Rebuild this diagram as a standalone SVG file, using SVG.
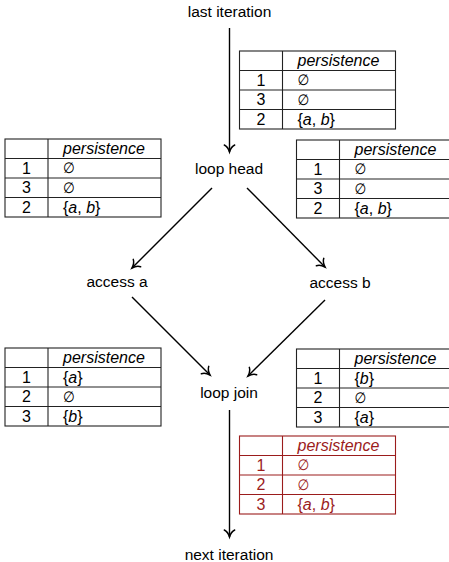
<svg xmlns="http://www.w3.org/2000/svg" width="449" height="562" viewBox="0 0 449 562">
<style>
text{font-family:"Liberation Sans","DejaVu Sans",Arial,sans-serif;font-size:15.5px;fill:#000}
.t text{font-size:16px}
.lbl{text-anchor:middle}
.red text{fill:#9b1c1c}
.num{text-anchor:middle}
.it{font-style:italic}
.t .es{font-family:"DejaVu Sans Condensed","DejaVu Sans",sans-serif;font-style:italic;font-size:15px}
.edge{stroke:#000;stroke-width:1.4;fill:none;marker-end:url(#arr)}
</style>
<defs>
<marker id="arr" markerUnits="userSpaceOnUse" markerWidth="14" markerHeight="14" viewBox="-9 -7 11 14" refX="0" refY="0" orient="auto">
<path d="M-7,-5.2 C-5.5,-2.2 -2,-0.6 0,0 C-2,0.6 -5.5,2.2 -7,5.2" fill="none" stroke="#000" stroke-width="1.5" stroke-linecap="round"/>
</marker>
<g id="grid" fill="none" stroke-width="1.1">
<rect x="0" y="0" width="156" height="78"/>
<line x1="43" y1="0" x2="43" y2="78"/>
<line x1="0" y1="19.5" x2="156" y2="19.5"/>
<line x1="0" y1="39" x2="156" y2="39"/>
<line x1="0" y1="58.5" x2="156" y2="58.5"/>
</g>
</defs>

<g id="connectors">
<line class="edge" x1="229.5" y1="28" x2="229.5" y2="152"/>
<line class="edge" x1="212" y1="188" x2="132" y2="268"/>
<line class="edge" x1="247" y1="188" x2="325" y2="267"/>
<line class="edge" x1="132" y1="297" x2="210" y2="375"/>
<line class="edge" x1="325" y1="300" x2="248" y2="376"/>
<line class="edge" x1="229.5" y1="410" x2="229.5" y2="537"/>
</g>

<g id="last-iteration"><text class="lbl" x="229.5" y="17">last iteration</text></g>
<g id="loop-head"><text class="lbl" x="229" y="174">loop head</text></g>
<g id="access-a"><text class="lbl" x="117" y="287">access a</text></g>
<g id="access-b"><text class="lbl" x="340" y="288">access b</text></g>
<g id="loop-join"><text class="lbl" x="229" y="398">loop join</text></g>
<g id="next-iteration"><text class="lbl" x="229" y="560">next iteration</text></g>

<g id="table-top" class="t" transform="translate(239.5,51)">
<use href="#grid" stroke="#222"/>
<text class="it" x="58" y="14.5">persistence</text>
<text class="num" x="21.5" y="34.5">1</text><text class="es" x="58" y="34">∅</text>
<text class="num" x="21.5" y="54">3</text><text class="es" x="58" y="53.5">∅</text>
<text class="num" x="21.5" y="73.5">2</text><text x="58" y="73.5">{<tspan class="it">a</tspan>, <tspan class="it">b</tspan>}</text>
</g>

<g id="table-head-left" class="t" transform="translate(5,139)">
<use href="#grid" stroke="#222"/>
<text class="it" x="58" y="14.5">persistence</text>
<text class="num" x="21.5" y="34.5">1</text><text class="es" x="58" y="34">∅</text>
<text class="num" x="21.5" y="54">3</text><text class="es" x="58" y="53.5">∅</text>
<text class="num" x="21.5" y="73.5">2</text><text x="58" y="73.5">{<tspan class="it">a</tspan>, <tspan class="it">b</tspan>}</text>
</g>

<g id="table-head-right" class="t" transform="translate(296.5,140)">
<use href="#grid" stroke="#222"/>
<text class="it" x="58" y="14.5">persistence</text>
<text class="num" x="21.5" y="34.5">1</text><text class="es" x="58" y="34">∅</text>
<text class="num" x="21.5" y="54">3</text><text class="es" x="58" y="53.5">∅</text>
<text class="num" x="21.5" y="73.5">2</text><text x="58" y="73.5">{<tspan class="it">a</tspan>, <tspan class="it">b</tspan>}</text>
</g>

<g id="table-join-left" class="t" transform="translate(5,348)">
<use href="#grid" stroke="#222"/>
<text class="it" x="58" y="14.5">persistence</text>
<text class="num" x="21.5" y="34.5">1</text><text x="58" y="34.5">{<tspan class="it">a</tspan>}</text>
<text class="num" x="21.5" y="54">2</text><text class="es" x="58" y="53.5">∅</text>
<text class="num" x="21.5" y="73.5">3</text><text x="58" y="73.5">{<tspan class="it">b</tspan>}</text>
</g>

<g id="table-join-right" class="t" transform="translate(296.5,349)">
<use href="#grid" stroke="#222"/>
<text class="it" x="58" y="14.5">persistence</text>
<text class="num" x="21.5" y="34.5">1</text><text x="58" y="34.5">{<tspan class="it">b</tspan>}</text>
<text class="num" x="21.5" y="54">2</text><text class="es" x="58" y="53.5">∅</text>
<text class="num" x="21.5" y="73.5">3</text><text x="58" y="73.5">{<tspan class="it">a</tspan>}</text>
</g>

<g id="table-result" class="t red" transform="translate(239.5,436)">
<use href="#grid" stroke="#9b1c1c"/>
<text class="it" x="58" y="14.5">persistence</text>
<text class="num" x="21.5" y="34.5">1</text><text class="es" x="58" y="34">∅</text>
<text class="num" x="21.5" y="54">2</text><text class="es" x="58" y="53.5">∅</text>
<text class="num" x="21.5" y="73.5">3</text><text x="58" y="73.5">{<tspan class="it">a</tspan>, <tspan class="it">b</tspan>}</text>
</g>
</svg>
